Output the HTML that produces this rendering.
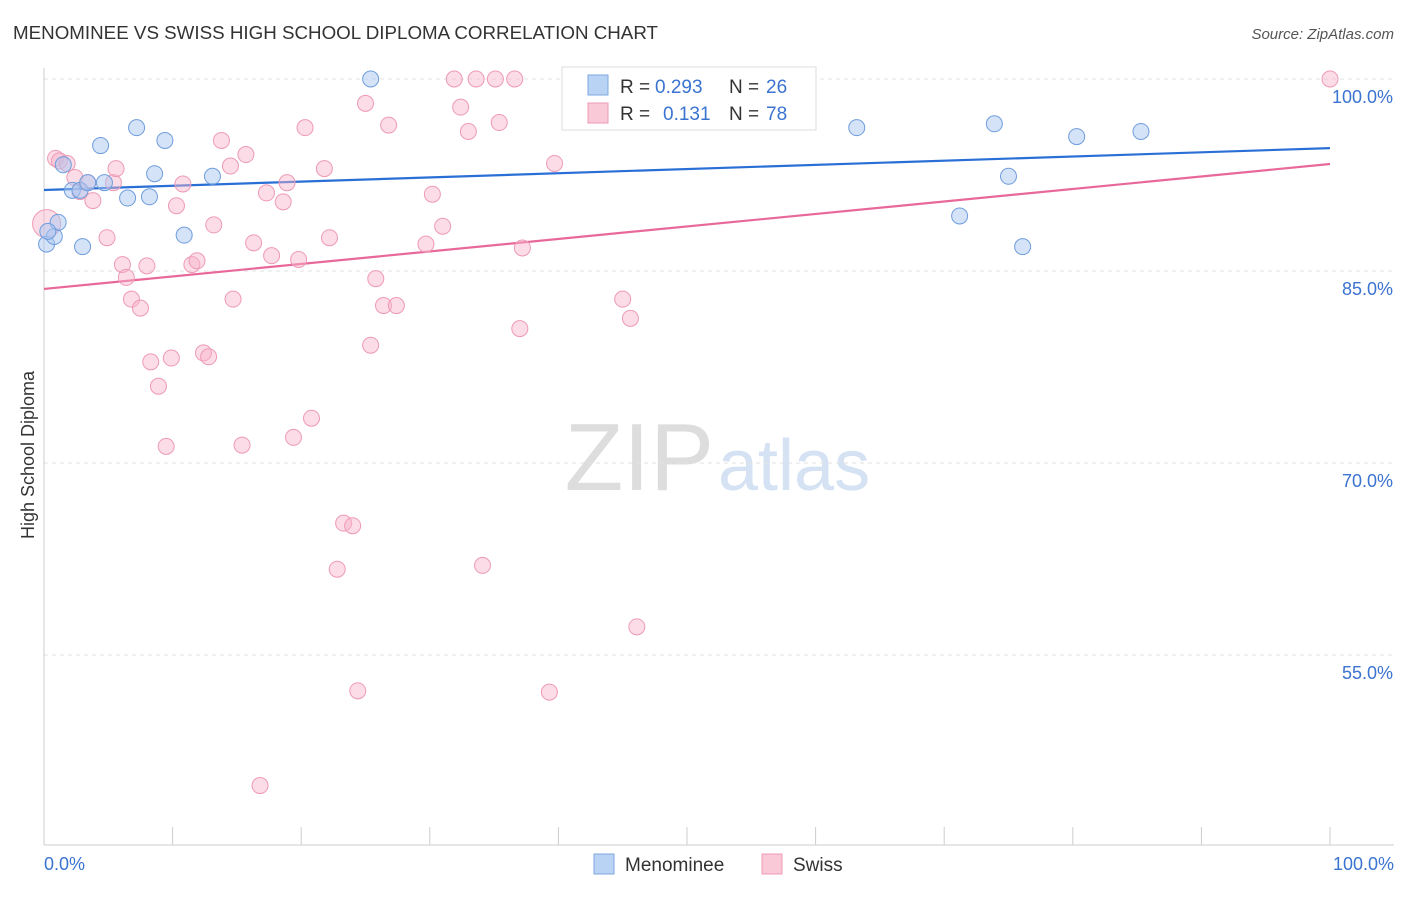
<!DOCTYPE html>
<html><head><meta charset="utf-8"><style>
body{margin:0;background:#fff;font-family:"Liberation Sans",sans-serif;}
svg text{font-family:"Liberation Sans",sans-serif;}
</style></head><body>
<svg id="c" width="1406" height="892">
<text x="13" y="39" font-size="18" fill="#333" textLength="645" lengthAdjust="spacingAndGlyphs">MENOMINEE VS SWISS HIGH SCHOOL DIPLOMA CORRELATION CHART</text>
<text x="1394" y="39" font-size="15" fill="#555" font-style="italic" text-anchor="end">Source: ZipAtlas.com</text>
<text x="714" y="490" font-size="96" fill="#ddd" text-anchor="end" font-family="Liberation Serif">ZIP</text>
<text x="718" y="490" font-size="72" fill="#d5e2f3">atlas</text>
<g id="grid"></g><g id="axes"></g><g id="lines"></g><g id="pts"></g>
<text transform="translate(34,455) rotate(-90)" font-size="18" fill="#333" text-anchor="middle">High School Diploma</text>
<rect x="562" y="67" width="254" height="63" fill="#fff" stroke="#ddd"/>
<rect x="588" y="75" width="20" height="20" fill="#b9d3f5" stroke="#7ea7e0"/>
<rect x="588" y="103" width="20" height="20" fill="#f9c9d8" stroke="#ee9ab5"/>
<g font-size="19">
<text x="620" y="93" fill="#333">R =</text><text x="655" y="93" fill="#3a73d0">0.293</text>
<text x="729" y="93" fill="#333">N =</text><text x="766" y="93" fill="#3a73d0">26</text></g>
<g font-size="19">
<text x="620" y="120" fill="#333">R =</text><text x="663" y="120" fill="#3a73d0">0.131</text>
<text x="729" y="120" fill="#333">N =</text><text x="766" y="120" fill="#3a73d0">78</text></g>
<rect x="594" y="854" width="20" height="20" fill="#b9d3f5" stroke="#7ea7e0"/>
<text x="625" y="871" font-size="19" fill="#333">Menominee</text>
<rect x="762" y="854" width="20" height="20" fill="#f9c9d8" stroke="#ee9ab5"/>
<text x="793" y="871" font-size="19" fill="#333">Swiss</text>
</svg>
<script>
const yTicks=[100,85,70,55];
const yTickLabels=["100.0%","85.0%","70.0%","55.0%"];
const xTickLabels=["0.0%","100.0%"];
const menX=[0.2,0.8,1.1,1.5,2.2,2.8,3.4,4.4,4.7,3.0,6.5,7.2,8.2,8.6,9.4,10.9,13.1,25.4,63.2,71.2,73.9,75.0,76.1,80.3,85.3,0.3];
const menY=[87.1,87.7,88.8,93.3,91.3,91.3,91.9,94.8,91.9,86.9,90.7,96.2,90.8,92.6,95.2,87.8,92.4,100,96.2,89.3,96.5,92.4,86.9,95.5,95.9,88.1];
const swX=[0.2,0.9,1.2,1.8,2.4,2.8,3.4,3.8,4.9,5.4,6.1,6.4,6.8,7.5,8.0,8.3,8.9,9.5,9.9,10.3,10.8,11.5,11.9,12.4,12.8,13.2,13.8,14.5,14.7,15.4,15.7,16.3,17.3,17.7,18.6,18.9,19.4,19.8,20.3,20.8,21.8,22.2,22.8,23.3,24.0,24.4,25.0,25.4,25.8,26.4,26.8,27.4,29.7,30.2,31.0,31.9,33.0,33.6,34.1,35.1,35.4,36.6,37.0,37.2,39.3,39.7,41.5,45.0,45.6,46.1,47.1,52.6,52.9,54.9,100,16.8,5.6,32.4];
const swY=[88.7,93.8,93.6,93.4,92.3,91.2,91.9,90.5,87.6,91.9,85.5,84.5,82.8,82.1,85.4,77.9,76.0,71.3,78.2,90.1,91.8,85.5,85.8,78.6,78.3,88.6,95.2,93.2,82.8,71.4,94.1,87.2,91.1,86.2,90.4,91.9,72.0,85.9,96.2,73.5,93.0,87.6,61.7,65.3,65.1,52.2,98.1,79.2,84.4,82.3,96.4,82.3,87.1,91.0,88.5,100,95.9,100,62.0,100,96.6,100,80.5,86.8,52.1,93.4,100,82.8,81.3,57.2,100,100,100,100,100,44.8,93.0,97.8];
const trendMen=[91.33,94.6];
const trendSw=[83.6,93.36];
const NS='http://www.w3.org/2000/svg';
const X=v=>44+v*12.86, Y=v=>79+(100-v)*12.8;
function mk(tag,attrs,parent){const e=document.createElementNS(NS,tag);for(const k in attrs)e.setAttribute(k,attrs[k]);document.getElementById(parent).appendChild(e);return e;}
yTicks.forEach((t,i)=>{
 const g=mk('line',{x1:44,x2:1394,y1:Y(t),y2:Y(t),stroke:'#e2e2e2','stroke-dasharray':'4,4'},'grid');
 
 
 const l=mk('text',{x:1393,y:Y(t)+24,'font-size':18,fill:'#3a73d0','text-anchor':'end'},'grid');l.textContent=yTickLabels[i];
 
 
});
const ya=mk('line',{x1:44,x2:44,y1:68,y2:845,stroke:'#ccc'},'axes');


const xa=mk('line',{x1:44,x2:1394,y1:845,y2:845,stroke:'#ccc'},'axes');


for(let i=0;i<=10;i++){const t=mk('line',{x1:X(i*10),x2:X(i*10),y1:827,y2:845,stroke:'#ccc'},'axes');
 
 }
[[0,'start'],[100,'end']].forEach((p,i)=>{const t=mk('text',{x:p[0]?1394:44,y:870,'font-size':18,fill:'#3a73d0','text-anchor':p[1]},'axes');t.textContent=xTickLabels[i];
 
 });
const lm=mk('line',{x1:X(0),y1:Y(trendMen[0]),x2:X(100),y2:Y(trendMen[1]),stroke:'#2a6fd6','stroke-width':2.2},'lines');


const ls=mk('line',{x1:X(0),y1:Y(trendSw[0]),x2:X(100),y2:Y(trendSw[1]),stroke:'#e8689a','stroke-width':2.2},'lines');


swX.forEach((x,i)=>{const c=mk('circle',{cx:X(x),cy:Y(swY[i]),r:i==0?14:8,fill:'rgba(246,178,201,0.45)',stroke:'#ee9ab5','stroke-width':1},'pts');
 
 });
menX.forEach((x,i)=>{const c=mk('circle',{cx:X(x),cy:Y(menY[i]),r:8,fill:'rgba(170,200,242,0.5)',stroke:'#6f9ddc','stroke-width':1},'pts');
 
 });
</script>
</body></html>
